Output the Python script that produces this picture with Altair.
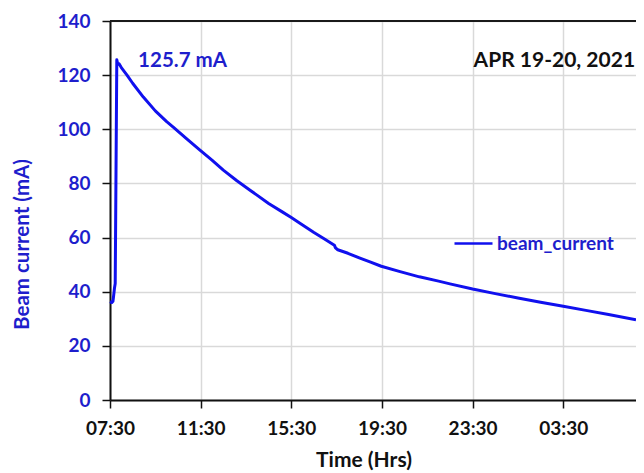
import altair as alt
import pandas as pd

# ---- data (hours since 07:30, beam current in mA) ----
hours = [0.00, 0.08, 0.13, 0.16, 0.20, 0.23, 0.30, 0.34, 0.40, 0.50, 0.75, 1.00,
         1.47, 2.00, 2.50, 2.79, 3.40, 3.97, 4.50, 5.00, 5.60, 6.18, 7.00, 7.60,
         8.00, 8.38, 9.00, 9.50, 9.90, 9.95, 10.05, 10.50, 11.00, 11.50, 11.97,
         12.80, 13.65, 14.50, 15.00, 16.00, 17.00, 18.00, 19.00, 20.00, 21.00,
         22.00, 23.21]
current = [36.3, 36.0, 36.5, 38.5, 41.5, 43.0, 125.7, 124.0, 124.2, 122.8, 120.0,
           117.0, 111.9, 106.8, 102.8, 100.8, 96.4, 92.3, 88.6, 84.9, 81.0, 77.5,
           72.6, 69.5, 67.4, 65.3, 61.9, 59.3, 57.2, 56.2, 55.5, 54.2, 52.5, 50.9,
           49.4, 47.4, 45.5, 43.9, 42.9, 41.0, 39.3, 37.7, 36.1, 34.6, 33.1, 31.6,
           29.6]
series_name = "beam_current"

tick_hours = [0, 4, 8, 12, 16, 20]
tick_labels = ["07:30", "11:30", "15:30", "19:30", "23:30", "03:30"]
y_ticks = [0, 20, 40, 60, 80, 100, 120, 140]

peak_text = ["125.7 mA"]
peak_pos_h = [1.24]
peak_pos_v = [122.9]
date_text = ["APR 19-20, 2021"]
date_pos_h = [23.17]
date_pos_v = [123.0]

FONT = "Lato"
TEXT_BLUE = "#1E1ECC"
LINE_BLUE = "#1010EE"

df = pd.DataFrame({"h": hours, "mA": current, "series": [series_name] * len(hours)})

xscale = alt.Scale(domain=[0, 23.21], nice=False, zero=False)
yscale = alt.Scale(domain=[0, 140], nice=False)

label_expr = "[" + ",".join(f"'{t}'" for t in tick_labels) + "][round(datum.value/4)]"

line = alt.Chart(df).mark_line(strokeWidth=3, strokeJoin="round").encode(
    x=alt.X("h:Q", scale=xscale, axis=alt.Axis(
        values=tick_hours, labelExpr=label_expr, title="Time (Hrs)", labelFlush=False,
        labelColor="#111111", labelFontSize=19, labelPadding=11,
        titleColor="#111111", titleFontSize=21, titleX=253.5, titleY=66,
        titleBaseline="alphabetic", grid=True)),
    y=alt.Y("mA:Q", scale=yscale, axis=alt.Axis(
        values=y_ticks, title="Beam current (mA)", labelColor=TEXT_BLUE, labelFlush=False,
        labelFontSize=19, labelPadding=12, titleColor=TEXT_BLUE, titleFontSize=20.5,
        titleX=-88, titleY=223, titleBaseline="middle", grid=True)),
    color=alt.Color("series:N", scale=alt.Scale(range=[LINE_BLUE]), legend=alt.Legend(
        title=None, orient="none", legendX=343, legendY=202, symbolType="stroke",
        symbolSize=1444, symbolStrokeWidth=2.5, labelFont=FONT, labelFontSize=19,
        labelFontWeight="bold", labelColor=TEXT_BLUE, labelOffset=3, padding=0)),
)

top_rule = alt.Chart(pd.DataFrame({"mA": [140]})).mark_rule(
    color="#1a1a1a", strokeWidth=2).encode(y=alt.Y("mA:Q"))

peak = alt.Chart(pd.DataFrame({"h": peak_pos_h, "mA": peak_pos_v, "t": peak_text})).mark_text(
    align="left", baseline="alphabetic", font=FONT, fontSize=20.5, fontWeight="bold",
    color=TEXT_BLUE).encode(x="h:Q", y="mA:Q", text="t:N")

date = alt.Chart(pd.DataFrame({"h": date_pos_h, "mA": date_pos_v, "t": date_text})).mark_text(
    align="right", baseline="alphabetic", font=FONT, fontSize=21, fontWeight="bold",
    color="#111111").encode(x="h:Q", y="mA:Q", text="t:N")

chart = alt.layer(line, top_rule, peak, date).properties(
    width=526, height=379,
    autosize=alt.AutoSizeParams(type="none"),
    padding={"left": 102, "top": 13, "right": 0, "bottom": 73},
).configure_view(stroke=None).configure_axis(
    labelFont=FONT, titleFont=FONT, labelFontWeight="bold", titleFontWeight="bold",
    domainColor="#111111", domainWidth=2, tickColor="#111111", tickWidth=1.5,
    tickSize=8, gridColor="#d9d9d9", gridWidth=1.5,
)

chart.save("out.html", embed_options={"renderer": "svg", "actions": False})
